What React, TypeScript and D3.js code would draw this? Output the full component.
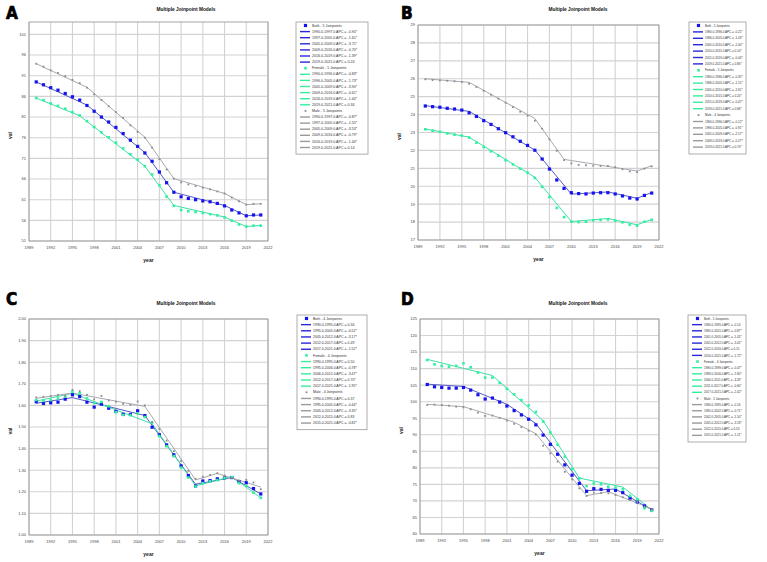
import * as d3 from 'd3';

// Years shared by every panel
const years = [1990, 1991, 1992, 1993, 1994, 1995, 1996, 1997, 1998, 1999, 2000, 2001, 2002, 2003, 2004, 2005,
  2006, 2007, 2008, 2009, 2010, 2011, 2012, 2013, 2014, 2015, 2016, 2017, 2018, 2019, 2020, 2021];
const xTicks = [1989, 1992, 1995, 1998, 2001, 2004, 2007, 2010, 2013, 2016, 2019, 2022];

// Panel A
const aBoth = [89.5, 88.8, 88.1, 87.5, 86.7, 85.9, 85.1, 83.8, 82.4, 81.0, 79.8, 78.5, 77.0, 75.4, 73.9, 72.3,
  70.3, 67.7, 65.1, 62.8, 61.7, 61.3, 61.0, 60.7, 60.5, 60.1, 59.5, 58.5, 57.8, 57.1, 57.3, 57.3];
const aFemale = [85.6, 85.1, 84.3, 83.7, 83.0, 82.2, 81.4, 80.0, 78.6, 77.3, 76.1, 74.8, 73.4, 72.0, 70.7, 69.1,
  67.1, 64.5, 61.7, 59.5, 58.5, 58.2, 58.0, 57.8, 57.5, 57.2, 56.7, 55.9, 55.0, 54.5, 54.7, 54.7];
const aMale = [93.9, 93.2, 92.3, 91.7, 90.9, 90.0, 89.2, 88.1, 86.5, 85.1, 83.6, 82.2, 80.8, 79.0, 77.4, 76.0,
  73.6, 70.8, 68.3, 66.1, 65.2, 64.7, 64.3, 63.9, 63.5, 63.0, 62.5, 61.5, 60.6, 59.8, 60.0, 60.0];
const aBothJoin = [1990, 1997, 2005, 2009, 2016, 2019, 2021];
const aBothFit = [89.5, 83.9, 72.4, 62.8, 59.6, 57.1, 57.3];
const aBothApc = ['-0.90*', '-1.61*', '-3.71*', '-0.70*', '-1.39*', '0.24'];
const aFemaleJoin = [1990, 1996, 2005, 2009, 2016, 2019, 2021];
const aFemaleFit = [85.6, 81.3, 69.1, 59.6, 56.8, 54.5, 54.8];
const aFemaleApc = ['-0.83*', '-1.73*', '-3.90*', '-0.61*', '-1.40*', '0.34'];
const aMaleJoin = [1990, 1997, 2005, 2009, 2016, 2019, 2021];
const aMaleFit = [93.9, 88.2, 76.1, 66.1, 62.5, 59.8, 60.0];
const aMaleApc = ['-0.87*', '-1.55*', '-3.53*', '-0.79*', '-1.40*', '0.14'];
const aTicks = [51, 56, 61, 66, 71, 76, 81, 86, 91, 96, 101];

// Panel B
const bBoth = [24.48, 24.44, 24.41, 24.35, 24.31, 24.25, 24.10, 23.90, 23.66, 23.45, 23.21, 22.99, 22.76, 22.51,
  22.28, 22.01, 21.52, 20.96, 20.35, 19.88, 19.64, 19.59, 19.57, 19.62, 19.64, 19.64, 19.57, 19.46, 19.34, 19.29,
  19.49, 19.62];
const bFemale = [23.18, 23.10, 23.04, 22.95, 22.88, 22.83, 22.72, 22.43, 22.19, 21.95, 21.71, 21.45, 21.22, 20.98,
  20.76, 20.46, 19.97, 19.40, 18.79, 18.28, 18.02, 18.00, 18.02, 18.10, 18.12, 18.15, 18.08, 17.99, 17.86, 17.80,
  18.02, 18.12];
const bMale = [25.97, 25.93, 25.91, 25.89, 25.86, 25.82, 25.72, 25.54, 25.33, 25.11, 24.89, 24.66, 24.42, 24.16,
  23.94, 23.66, 23.21, 22.62, 21.98, 21.46, 21.28, 21.19, 21.17, 21.15, 21.13, 21.13, 21.06, 20.95, 20.83, 20.79,
  20.98, 21.11];
const bBothJoin = [1990, 1996, 2005, 2010, 2015, 2019, 2021];
const bBothFit = [24.50, 24.18, 22.02, 19.56, 19.68, 19.33, 19.65];
const bBothApc = ['-0.21*', '-1.03*', '-2.40*', '0.14*', '-0.44*', '0.86*'];
const bFemaleJoin = [1990, 1996, 2005, 2010, 2015, 2019, 2021];
const bFemaleFit = [23.20, 22.74, 20.50, 18.03, 18.20, 17.85, 18.15];
const bFemaleApc = ['-0.35*', '-1.15*', '-2.61*', '0.24*', '-0.47*', '0.86*'];
const bMaleJoin = [1990, 1996, 2005, 2009, 2019, 2021];
const bMaleFit = [26.00, 25.80, 23.78, 21.50, 20.85, 21.15];
const bMaleApc = ['-0.12*', '-0.91*', '-2.57*', '-0.27*', '0.74*'];
const bTicks = [17, 18, 19, 20, 21, 22, 23, 24, 25, 26, 27, 28, 29];

// Panel C
const cBoth = [1.617, 1.609, 1.612, 1.615, 1.629, 1.649, 1.641, 1.615, 1.592, 1.606, 1.587, 1.572, 1.559, 1.558,
  1.575, 1.553, 1.499, 1.464, 1.417, 1.371, 1.320, 1.275, 1.227, 1.250, 1.252, 1.260, 1.264, 1.266, 1.247, 1.242,
  1.215, 1.190];
const cFemale = [1.625, 1.621, 1.626, 1.632, 1.641, 1.664, 1.656, 1.632, 1.611, 1.616, 1.596, 1.569, 1.556, 1.555,
  1.562, 1.546, 1.521, 1.458, 1.411, 1.365, 1.312, 1.266, 1.225, 1.240, 1.249, 1.254, 1.263, 1.268, 1.240, 1.227,
  1.196, 1.172];
const cMale = [1.637, 1.640, 1.643, 1.649, 1.645, 1.672, 1.666, 1.649, 1.628, 1.644, 1.623, 1.617, 1.607, 1.603,
  1.618, 1.600, 1.522, 1.491, 1.437, 1.388, 1.343, 1.297, 1.260, 1.270, 1.278, 1.286, 1.275, 1.263, 1.252, 1.255,
  1.243, 1.212];
const cBothJoin = [1990, 1995, 2005, 2012, 2017, 2021];
const cBothFit = [1.610, 1.636, 1.553, 1.235, 1.266, 1.190];
const cBothApc = ['0.34', '-0.52*', '-3.17*', '0.49', '-1.52*'];
const cFemaleJoin = [1990, 1995, 2006, 2012, 2017, 2021];
const cFemaleFit = [1.620, 1.656, 1.515, 1.228, 1.270, 1.172];
const cFemaleApc = ['0.50', '-0.78*', '-3.47*', '0.70*', '-1.95*'];
const cMaleJoin = [1990, 1995, 2005, 2012, 2015, 2021];
const cMaleFit = [1.633, 1.657, 1.595, 1.255, 1.285, 1.222];
const cMaleApc = ['0.37', '-0.44*', '-3.35*', '0.83', '-0.82*'];
const cTicks = [1.0, 1.1, 1.2, 1.3, 1.4, 1.5, 1.6, 1.7, 1.8, 1.9, 2.0];

// Panel D
const dBoth = [105.2, 104.5, 104.3, 104.1, 104.1, 104.3, 103.5, 102.1, 100.8, 101.1, 99.9, 98.7, 97.3, 96.0, 94.7,
  93.0, 89.9, 87.1, 84.1, 80.9, 77.8, 75.3, 72.9, 73.7, 73.5, 73.2, 73.2, 72.5, 70.8, 69.7, 68.5, 67.3];
const dFemale = [112.6, 111.3, 110.8, 110.6, 110.8, 111.6, 110.4, 108.8, 107.3, 107.3, 105.7, 103.9, 102.2, 100.5,
  98.9, 96.9, 94.0, 90.7, 87.0, 83.4, 79.6, 76.8, 74.5, 75.3, 75.0, 74.3, 74.0, 73.5, 71.5, 70.5, 67.8, 67.0];
const dMale = [99.0, 99.1, 99.0, 98.8, 98.5, 98.3, 97.7, 96.7, 95.7, 95.8, 95.1, 94.3, 93.3, 92.3, 91.2, 90.1,
  86.7, 84.4, 81.9, 78.8, 76.5, 73.8, 71.5, 72.5, 72.4, 72.3, 71.8, 71.1, 70.3, 69.7, 68.3, 67.5];
const dBothJoin = [1990, 1995, 2001, 2005, 2012, 2016, 2021];
const dBothFit = [105.3, 104.6, 99.2, 93.4, 73.1, 73.6, 67.3];
const dBothApc = ['-0.14', '-0.87*', '-1.45*', '-3.41*', '0.15', '-1.72*'];
const dFemaleJoin = [1990, 1999, 2006, 2011, 2017, 2021];
const dFemaleFit = [112.8, 107.9, 94.3, 76.9, 74.2, 67.3];
const dFemaleApc = ['-0.47*', '-1.80*', '-4.26*', '-0.60*', '-2.42*'];
const dMaleJoin = [1990, 1995, 2002, 2005, 2012, 2015, 2021];
const dMaleFit = [99.2, 98.5, 93.8, 90.3, 71.6, 72.8, 67.6];
const dMaleApc = ['-0.16', '-0.71*', '-1.50*', '-3.18*', '0.53', '-1.11*'];
const dTicks = [60, 65, 70, 75, 80, 85, 90, 95, 100, 105, 110, 115, 120, 125];

const W = 767;
const H = 562;
const FONT = 'Arial, "Liberation Sans", sans-serif';

const STYLES = {
  Both: { marker: '#1414ee', size: 3.2, line: '#5a5ac6', legend: '#2828d8' },
  Female: { marker: '#2ef29e', size: 2.6, line: '#3ce0a6', legend: '#35ee9c' },
  Male: { marker: '#8c8c8c', size: 1.8, line: '#a9a9b4', legend: '#9a9a9a' },
};

type Series = { name: 'Both' | 'Female' | 'Male'; values: number[]; join: number[]; fit: number[]; apc: string[] };

const panels = [
  {
    letter: 'A', lx: 6, ly: 19,
    plot: { x0: 29, x1: 268, y0: 22, y1: 241 }, yDomain: [51, 104], yTicks: aTicks, fmt: d3.format('d'),
    titleX: 186, titleY: 11,
    legend: { x: 296, y: 22, w: 72, row: 6.1, fs: 3.6 },
    series: [
      { name: 'Both', values: aBoth, join: aBothJoin, fit: aBothFit, apc: aBothApc },
      { name: 'Female', values: aFemale, join: aFemaleJoin, fit: aFemaleFit, apc: aFemaleApc },
      { name: 'Male', values: aMale, join: aMaleJoin, fit: aMaleFit, apc: aMaleApc },
    ] as Series[],
  },
  {
    letter: 'B', lx: 401, ly: 19,
    plot: { x0: 418, x1: 659, y0: 25, y1: 240 }, yDomain: [17, 29], yTicks: bTicks, fmt: d3.format('d'),
    titleX: 578, titleY: 11,
    legend: { x: 689, y: 22, w: 57, row: 6.4, fs: 3.0 },
    series: [
      { name: 'Both', values: bBoth, join: bBothJoin, fit: bBothFit, apc: bBothApc },
      { name: 'Female', values: bFemale, join: bFemaleJoin, fit: bFemaleFit, apc: bFemaleApc },
      { name: 'Male', values: bMale, join: bMaleJoin, fit: bMaleFit, apc: bMaleApc },
    ] as Series[],
  },
  {
    letter: 'C', lx: 6, ly: 305,
    plot: { x0: 29, x1: 268, y0: 319, y1: 535 }, yDomain: [1, 2], yTicks: cTicks, fmt: d3.format('.2f'),
    titleX: 186, titleY: 305,
    legend: { x: 297, y: 315, w: 70, row: 6.15, fs: 3.5 },
    series: [
      { name: 'Both', values: cBoth, join: cBothJoin, fit: cBothFit, apc: cBothApc },
      { name: 'Female', values: cFemale, join: cFemaleJoin, fit: cFemaleFit, apc: cFemaleApc },
      { name: 'Male', values: cMale, join: cMaleJoin, fit: cMaleFit, apc: cMaleApc },
    ] as Series[],
  },
  {
    letter: 'D', lx: 401, ly: 305,
    plot: { x0: 420, x1: 659, y0: 319, y1: 534 }, yDomain: [60, 125], yTicks: dTicks, fmt: d3.format('d'),
    titleX: 578, titleY: 305,
    legend: { x: 688, y: 315, w: 58, row: 6.15, fs: 3.0 },
    series: [
      { name: 'Both', values: dBoth, join: dBothJoin, fit: dBothFit, apc: dBothApc },
      { name: 'Female', values: dFemale, join: dFemaleJoin, fit: dFemaleFit, apc: dFemaleApc },
      { name: 'Male', values: dMale, join: dMaleJoin, fit: dMaleFit, apc: dMaleApc },
    ] as Series[],
  },
];

function Panel({ p }: { p: (typeof panels)[number] }) {
  const { x0, x1, y0, y1 } = p.plot;
  const x = d3.scaleLinear().domain([1989, 2022]).range([x0, x1]);
  const y = d3.scaleLinear().domain(p.yDomain).range([y1, y0]);
  const line = d3.line<[number, number]>().x((d) => x(d[0])).y((d) => y(d[1]));

  // legend rows: a header for each series, then one row per segment
  const rows: { kind: 'head' | 'seg'; name: Series['name']; text: string }[] = [];
  p.series.forEach((s) => {
    rows.push({ kind: 'head', name: s.name, text: `${s.name} - ${s.join.length - 2} Joinpoints` });
    s.apc.forEach((a, i) => {
      rows.push({
        kind: 'seg', name: s.name,
        text: `${s.join[i].toFixed(1)}-${s.join[i + 1].toFixed(1)} APC = ${a}`,
      });
    });
  });
  const lg = p.legend;
  const lgH = rows.length * lg.row + 4;

  return (
    <g>
      <text x={p.lx} y={p.ly} fontFamily='"Liberation Sans Narrow", "DejaVu Sans Condensed", sans-serif'
        fontWeight={700} fontSize={17} fill="#000" stroke="#000" strokeWidth={0.7}>{p.letter}</text>
      <text x={p.titleX} y={p.titleY} textAnchor="middle" fontFamily={FONT} fontWeight={700} fontSize={4.8}
        fill="#111">Multiple Joinpoint Models</text>

      {/* grid */}
      {p.yTicks.map((t) => (
        <line key={'gy' + t} x1={x0} x2={x1} y1={y(t)} y2={y(t)} stroke="#d2d2d2" strokeWidth={1.1} />
      ))}
      {xTicks.map((t) => (
        <line key={'gx' + t} x1={x(t)} x2={x(t)} y1={y0} y2={y1} stroke="#d2d2d2" strokeWidth={1.1} />
      ))}
      <rect x={x0} y={y0} width={x1 - x0} height={y1 - y0} fill="none" stroke="#8f8f8f" strokeWidth={0.8} />

      {/* tick labels */}
      {p.yTicks.map((t) => (
        <text key={'ty' + t} x={x0 - 3} y={y(t) + 1.4} textAnchor="end" fontFamily={FONT} fontSize={4}
          fill="#444">{p.fmt(t)}</text>
      ))}
      {xTicks.map((t) => (
        <text key={'tx' + t} x={x(t)} y={y1 + 7.5} textAnchor="middle" fontFamily={FONT} fontSize={4}
          fill="#444">{t}</text>
      ))}
      <text x={(x0 + x1) / 2} y={y1 + 21} textAnchor="middle" fontFamily={FONT} fontWeight={700} fontSize={5}
        fill="#222">year</text>
      <text transform={`translate(${x0 - 17},${(y0 + y1) / 2 + 4}) rotate(-90)`} textAnchor="middle"
        fontFamily={FONT} fontWeight={700} fontSize={5} fill="#222">val</text>

      {/* fitted joinpoint lines, then observed points */}
      {p.series.map((s) => (
        <path key={'l' + s.name} d={line(s.join.map((j, i) => [j, s.fit[i]] as [number, number])) ?? ''}
          fill="none" stroke={STYLES[s.name].line} strokeWidth={1} />
      ))}
      {p.series.map((s) =>
        s.values.map((v, i) => {
          const st = STYLES[s.name];
          return (
            <rect key={s.name + i} x={x(years[i]) - st.size / 2} y={y(v) - st.size / 2} width={st.size}
              height={st.size} fill={st.marker} />
          );
        }),
      )}

      {/* legend */}
      <rect x={lg.x} y={lg.y} width={lg.w} height={lgH} fill="#fff" stroke="#8a8a8a" strokeWidth={0.7} />
      {rows.map((r, i) => {
        const cy = lg.y + 3.5 + i * lg.row;
        const st = STYLES[r.name];
        return (
          <g key={'lg' + i}>
            {r.kind === 'head' ? (
              <rect x={lg.x + 9.5 - st.size / 2} y={cy - st.size / 2} width={st.size} height={st.size}
                fill={st.marker} />
            ) : (
              <line x1={lg.x + 4} x2={lg.x + 14} y1={cy} y2={cy} stroke={st.legend} strokeWidth={1.4} />
            )}
            <text x={lg.x + 16} y={cy + 1.1} fontFamily={FONT} fontSize={lg.fs} fill="#333">{r.text}</text>
          </g>
        );
      })}
    </g>
  );
}

export default function App() {
  return (
    <svg width={W} height={H} viewBox={`0 0 ${W} ${H}`}
      style={{ position: 'absolute', left: 0, top: 0, background: '#fff' }}>
      <rect width={W} height={H} fill="#fff" />
      {panels.map((p) => (
        <Panel key={p.letter} p={p} />
      ))}
    </svg>
  );
}
